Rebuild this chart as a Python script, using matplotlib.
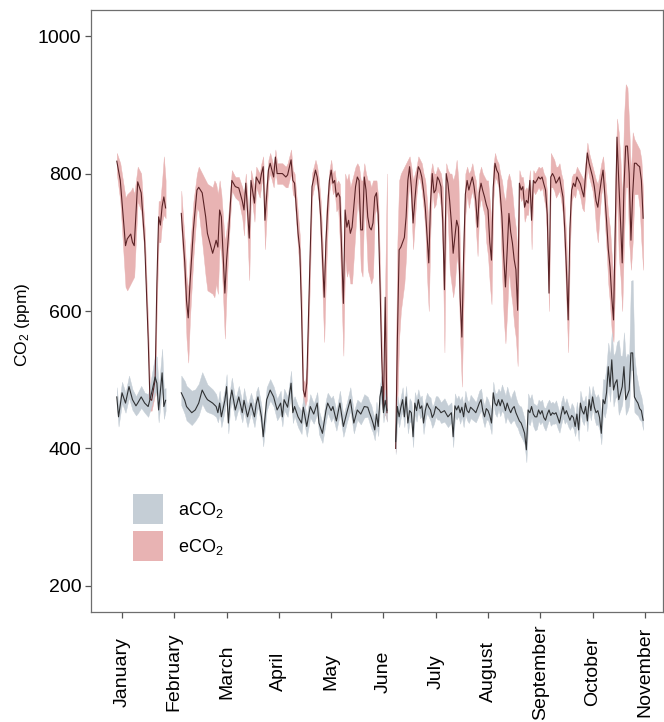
import numpy as np
import matplotlib
matplotlib.use("Agg")
import matplotlib.pyplot as plt
from matplotlib.patches import Patch

plt.rcParams['font.family'] = ['Liberation Sans', 'DejaVu Sans']
plt.rcParams['mathtext.fontset'] = 'custom'
plt.rcParams['mathtext.rm'] = 'Liberation Sans'
plt.rcParams['mathtext.it'] = 'Liberation Sans:italic'

# ---------------- data ----------------
months = ["January", "February", "March", "April", "May", "June", "July",
          "August", "September", "October", "November"]
month_days = [0, 30, 60, 90, 120, 150, 180, 210, 240, 270, 300]

# eCO2 (elevated) daily mean and band
e_day = ([-3, -1, 2, 3, 5, 6, 7, 9, 11, 13, 15, 16, 17, 19, 20, 21, 22, 23, 24, 25]
         + [34, 36, 37, 38, 39, 41, 43, 44, 46, 48, 49, 52, 53, 54, 55, 56, 57, 59, 60, 61,
            63, 65, 67, 69, 70, 71, 73, 74, 76, 77, 79, 80, 81, 82, 84, 85, 87, 88, 89, 92,
            94, 95, 97, 98, 99, 101, 102, 103, 104, 105, 106, 108, 109, 111, 112, 113, 114, 116, 117, 118,
            119, 120, 121, 122, 123, 124, 125, 127, 128, 129, 130, 131, 132, 134, 135, 136, 137, 138, 139, 140,
            141, 142, 143, 144, 145, 146, 147, 148, 149, 150, 151, 152]
         + list(range(157, 300)))
e_mean = [818, 790, 695, 705, 712, 700, 695, 788, 772, 700, 560, 472, 470, 500, 640, 737, 725, 752, 766, 750,
          742, 670, 615, 590, 640, 720, 776, 780, 772, 737, 713, 684, 693, 703, 693, 747, 737, 626, 674, 707,
          790, 781, 779, 760, 747, 786, 706, 790, 757, 795, 785, 800, 810, 732, 805, 815, 795, 824, 800, 800,
          795, 798, 820, 790, 786, 713, 689, 600, 485, 475, 495, 689, 781, 805, 795, 772, 737, 620, 700, 751,
          790, 805, 786, 790, 766, 772, 766, 611, 747, 722, 732, 713, 722, 781, 795, 790, 718, 718, 795, 776,
          737, 722, 718, 728, 766, 772, 740, 640, 533, 456, 620, 452,
          400, 560, 689, 693, 700, 707, 737, 790, 810, 780, 728, 761, 790, 810, 805, 795, 775, 751, 710, 670,
          757, 800, 772, 776, 795, 790, 781, 732, 631, 800, 786, 760, 728, 684, 708, 732, 722, 620, 562, 680,
          770, 790, 776, 786, 795, 781, 760, 722, 772, 786, 775, 766, 755, 747, 700, 674, 780, 815, 805, 800,
          770, 737, 680, 635, 689, 742, 715, 699, 675, 660, 601, 786, 776, 781, 751, 761, 757, 790, 732, 790,
          786, 790, 795, 792, 795, 785, 776, 740, 626, 795, 800, 795, 786, 790, 795, 780, 766, 720, 660, 587,
          720, 776, 786, 781, 795, 790, 785, 775, 766, 800, 830, 815, 805, 795, 781, 760, 751, 772, 790, 805,
          770, 732, 690, 664, 620, 587, 720, 853, 790, 732, 670, 780, 840, 840, 800, 703, 770, 815, 815, 812,
          810, 790, 735]
e_low = [800, 760, 635, 630, 640, 645, 650, 760, 745, 680, 540, 455, 455, 480, 610, 700, 700, 730, 740, 735,
         720, 630, 560, 525, 590, 680, 750, 745, 700, 650, 630, 625, 620, 640, 625, 700, 680, 560, 630, 690,
         775, 765, 760, 735, 710, 770, 645, 775, 730, 780, 765, 785, 795, 690, 790, 800, 780, 805, 785, 785,
         780, 780, 800, 770, 765, 690, 660, 570, 470, 460, 470, 660, 765, 790, 780, 755, 700, 555, 650, 720,
         775, 790, 770, 775, 745, 750, 700, 535, 680, 650, 660, 640, 640, 720, 760, 740, 660, 650, 760, 720,
         660, 650, 640, 650, 740, 750, 715, 610, 510, 445, 450, 440,
         395, 470, 560, 600, 620, 640, 680, 760, 790, 750, 690, 730, 770, 795, 790, 775, 750, 720, 650, 600,
         720, 780, 750, 755, 775, 770, 750, 690, 540, 770, 730, 660, 640, 620, 640, 680, 660, 560, 490, 620,
         740, 770, 750, 765, 775, 760, 720, 680, 750, 765, 750, 740, 700, 680, 640, 610, 760, 795, 790, 780,
         740, 660, 590, 553, 600, 660, 630, 610, 580, 560, 520, 770, 760, 765, 730, 740, 740, 775, 690, 775,
         770, 775, 780, 775, 780, 765, 750, 700, 600, 780, 780, 775, 765, 770, 775, 760, 740, 680, 610, 540,
         690, 760, 770, 765, 780, 775, 765, 750, 745, 780, 810, 795, 785, 775, 755, 720, 700, 740, 770, 785,
         730, 690, 640, 610, 570, 555, 650, 780, 680, 650, 600, 700, 780, 780, 700, 660, 700, 770, 770, 770,
         750, 700, 660]
e_high = [830, 815, 765, 770, 775, 780, 770, 810, 800, 720, 580, 490, 485, 520, 670, 760, 760, 790, 825, 790,
          775, 700, 650, 630, 690, 760, 800, 810, 800, 790, 785, 780, 790, 785, 770, 790, 770, 700, 720, 740,
          805, 795, 795, 780, 770, 800, 730, 805, 780, 810, 800, 815, 825, 760, 820, 830, 810, 835, 815, 815,
          810, 815, 835, 805, 800, 740, 710, 630, 500, 495, 520, 720, 800, 820, 810, 790, 760, 650, 740, 775,
          805, 820, 800, 805, 785, 790, 785, 640, 800, 790, 800, 780, 790, 810, 815, 810, 790, 790, 815, 800,
          790, 790, 780, 790, 790, 790, 765, 670, 560, 470, 640, 800,
          500, 700, 790, 800, 805, 810, 815, 820, 825, 810, 790, 800, 810, 825, 820, 815, 800, 790, 760, 720,
          800, 815, 800, 800, 810, 805, 800, 780, 680, 815, 805, 800, 800, 790, 800, 820, 790, 680, 610, 720,
          800, 810, 800, 805, 815, 800, 790, 760, 800, 810, 800, 795, 790, 790, 760, 730, 810, 830, 820, 815,
          800, 790, 770, 760, 790, 800, 790, 770, 740, 720, 680, 805, 795, 795, 775, 780, 775, 805, 760, 805,
          800, 805, 810, 808, 810, 800, 795, 770, 650, 830, 825, 820, 810, 810, 815, 800, 790, 750, 700, 620,
          760, 795, 800, 800, 810, 805, 800, 795, 790, 820, 845, 830, 820, 810, 800, 790, 785, 800, 815, 825,
          800, 770, 740, 720, 680, 640, 790, 880, 860, 820, 760, 880, 930, 925, 870, 800, 860, 850, 845, 840,
          835, 820, 770]

# aCO2 (ambient) daily mean and band
a_day = ([-3, -2, 0, 2, 4, 6, 8, 9, 11, 13, 15, 17, 19, 20, 21, 23, 24, 25]
         + [34, 36, 37, 40, 42, 44, 46, 48, 49, 52, 54, 55, 56, 57, 59, 60, 61, 62, 63, 65,
            67, 69, 70, 72, 74, 76, 77, 78, 80, 81, 83, 85, 87, 89, 91, 92, 93, 95, 97, 98,
            99, 101, 103, 104, 106, 108, 110, 112, 113, 115, 117, 118, 120, 121, 123, 125, 127, 129, 131, 133,
            135, 137, 139, 141, 142, 143, 144, 145, 146, 147, 148, 149, 150, 151, 152]
         + list(range(157, 184)) + [185, 187, 189] + list(range(190, 201)) + [202, 203]
         + list(range(205, 300)))
a_mean = [475, 446, 481, 466, 490, 471, 462, 466, 475, 466, 461, 481, 504, 495, 456, 510, 461, 470,
          481, 470, 461, 452, 456, 466, 485, 475, 471, 466, 461, 452, 466, 446, 470, 490, 437, 470, 485, 456,
          475, 452, 470, 446, 466, 446, 465, 475, 446, 417, 471, 485, 475, 456, 466, 446, 471, 460, 495, 452,
          461, 446, 437, 460, 432, 461, 450, 466, 437, 422, 455, 466, 455, 461, 440, 466, 432, 452, 471, 437,
          456, 450, 461, 460, 452, 445, 437, 427, 450, 432, 475, 490, 452, 470, 455,
          410, 461, 446, 460, 471, 446, 475, 437, 455, 452, 417, 466, 455, 471, 458, 462, 437, 455, 466, 460,
          456, 445, 450, 461, 458, 456, 452,
          455, 446, 452,
          417, 462, 456, 462, 452, 460, 446, 466, 455, 452, 460,
          455, 452,
          466, 471, 455, 446, 458, 455, 448, 437, 481, 466, 462, 471, 462, 471, 465, 455, 466, 458, 452, 458,
          461, 452, 446, 440, 437, 430, 422, 398, 456, 452, 461, 450, 446, 446, 456, 450, 455, 445, 441, 450,
          456, 448, 452, 450, 452, 445, 437, 450, 461, 450, 455, 448, 441, 448, 445, 432, 450, 427, 466, 455,
          450, 461, 440, 471, 455, 475, 460, 452, 455, 445, 422, 471, 465, 481, 519, 490, 529, 485, 495, 500,
          471, 480, 490, 519, 471, 478, 485, 539, 539, 475, 470, 466, 458, 455, 441]
a_wlo = [12, 14, 15, 14, 16, 15, 14, 15, 16, 14, 15, 18, 20, 20, 18, 22, 18, 15,
         18, 20, 20, 18, 16, 18, 20, 20, 18, 16, 15, 14, 16, 15, 14, 16, 15, 14, 16, 15,
         15, 14, 16, 15, 14, 15, 16, 14, 15, 14, 16, 15, 14, 15, 16, 14, 15, 14, 16, 15,
         14, 15, 16, 14, 15, 16, 14, 15, 16, 14, 15, 14, 16, 15, 14, 16, 15, 14, 16, 15,
         14, 15, 16, 14, 15, 16, 14, 15, 16, 14, 15, 16, 14, 15, 16,
         18, 16, 15, 14, 16, 15, 14, 15, 16, 14, 15, 14, 16, 15, 14, 15, 16, 14, 15, 14,
         16, 15, 14, 15, 16, 14, 15,
         16, 15, 14,
         15, 16, 14, 15, 16, 14, 15, 16, 14, 15, 16,
         15, 14,
         16, 15, 14, 15, 16, 14, 15, 16, 14, 15, 16, 14, 15, 16, 14, 18, 20, 18, 16, 18,
         20, 18, 16, 18, 20, 18, 16, 18, 20, 18, 16, 18, 20, 18, 16, 15, 16, 14, 15, 16,
         14, 15, 16, 14, 15, 16, 14, 15, 16, 14, 15, 16, 14, 15, 16, 14, 15, 16, 14, 15,
         16, 14, 15, 16, 14, 15, 16, 18, 20, 18, 16, 18, 20, 22, 24, 22, 26, 24, 22, 24,
         22, 24, 26, 24, 22, 24, 22, 26, 24, 22, 20, 18, 16, 15, 14]
a_whi = [14, 15, 16, 15, 16, 15, 14, 15, 16, 15, 18, 25, 32, 38, 30, 35, 25, 18,
         25, 28, 30, 32, 30, 28, 26, 24, 22, 20, 18, 16, 18, 15, 16, 18, 15, 16, 18, 15,
         16, 15, 18, 16, 15, 16, 18, 15, 16, 15, 18, 16, 15, 16, 18, 15, 16, 15, 18, 16,
         15, 16, 18, 15, 16, 18, 15, 16, 18, 15, 16, 15, 18, 16, 15, 18, 16, 15, 18, 16,
         15, 16, 18, 15, 16, 18, 15, 16, 18, 15, 16, 18, 15, 16, 18,
         30, 16, 15, 16, 18, 15, 16, 15, 18, 16, 15, 16, 18, 15, 16, 15, 18, 16, 15, 16,
         18, 15, 16, 15, 18, 16, 15,
         18, 16, 15,
         16, 18, 16, 15, 18, 16, 15, 18, 16, 15, 18,
         16, 15,
         18, 16, 15, 16, 18, 16, 15, 18, 16, 15, 18, 16, 20, 22, 20, 22, 24, 22, 20, 22,
         24, 22, 20, 22, 24, 22, 20, 22, 24, 20, 18, 16, 18, 16, 15, 18, 16, 15, 18, 16,
         15, 18, 16, 15, 18, 16, 15, 18, 16, 15, 18, 16, 15, 18, 16, 15, 18, 20, 18, 16,
         18, 16, 18, 20, 18, 16, 20, 22, 24, 26, 28, 30, 35, 40, 35, 45, 40, 50, 45, 55,
         87, 55, 45, 50, 60, 60, 50, 105, 106, 60, 40, 30, 25, 20, 18]

# ---------------- plotting ----------------
fig = plt.figure(figsize=(6.64, 7.22), dpi=100)
ax = fig.add_axes([91/664, 1-612/722, 572/664, 602/722])

e_fill = "#e8b3b3"
e_line = "#5a2326"
a_fill = "#c5ced6"
a_line = "#2f3133"


def segments(day, *series):
    day = np.asarray(day, float)
    cuts = np.where(np.diff(day) > 4)[0] + 1
    idx = np.split(np.arange(len(day)), cuts)
    for ii in idx:
        yield (day[ii],) + tuple(np.asarray(s, float)[ii] for s in series)


for d, m, lo, hi in segments(e_day, e_mean, e_low, e_high):
    ax.fill_between(d, lo, hi, color=e_fill, lw=0.3, ec=e_fill, zorder=1)

a_lo = np.asarray(a_mean, float) - np.asarray(a_wlo, float)
a_hi = np.asarray(a_mean, float) + np.asarray(a_whi, float)
for d, m, lo, hi in segments(a_day, a_mean, a_lo, a_hi):
    ax.fill_between(d, lo, hi, color=a_fill, lw=0.3, ec=a_fill, zorder=2)

for d, m in segments(e_day, e_mean):
    ax.plot(d, m, color=e_line, lw=0.8, zorder=3)
for d, m in segments(a_day, a_mean):
    ax.plot(d, m, color=a_line, lw=0.8, zorder=4)

ax.set_xlim(-17.8, 310.4)
ax.set_ylim(162, 1038)
ax.set_yticks([200, 400, 600, 800, 1000])
ax.set_xticks(month_days)
ax.set_xticklabels(months, rotation=90, va='center', ha='center')

for s in ax.spines.values():
    s.set_color("#6e6e6e")
    s.set_linewidth(0.9)
ax.tick_params(axis='both', colors='#555555', labelcolor='black', length=4,
               width=0.9, labelsize=14)
ax.tick_params(axis='x', pad=39)
ax.tick_params(axis='y', pad=3)

ax.set_ylabel("CO$_2$ (ppm)", fontsize=12.5)
ax.yaxis.set_label_coords(-0.104, 0.477)

handles = [Patch(facecolor=a_fill, edgecolor='none'),
           Patch(facecolor=e_fill, edgecolor='none')]
ax.legend(handles, ["aCO$_2$", "eCO$_2$"], loc='upper left',
          bbox_to_anchor=(0.0734, 0.196), frameon=False, fontsize=13,
          borderpad=0, borderaxespad=0,
          handlelength=1.67, handleheight=2.19, labelspacing=0.37, handletextpad=0.85)

fig.savefig("out.png", dpi=100)
